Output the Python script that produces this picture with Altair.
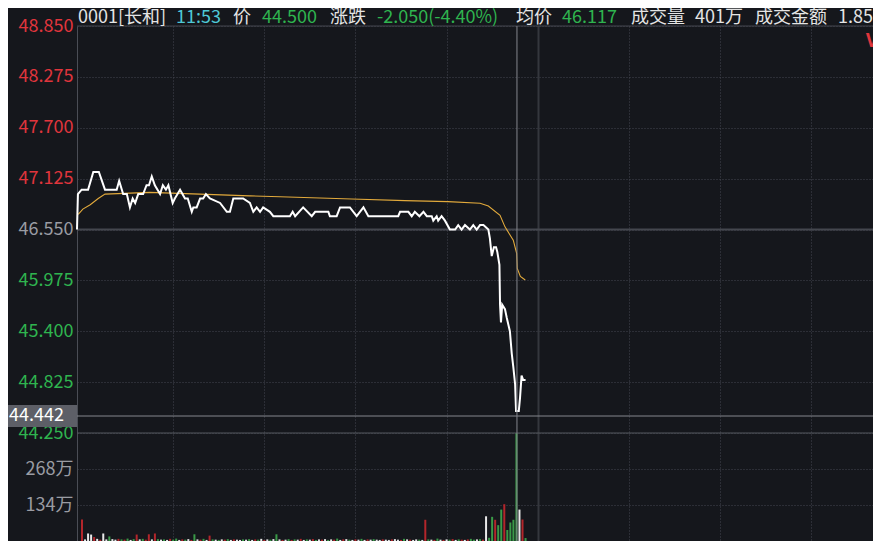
import altair as alt
import pandas as pd

# ---------------- data ----------------
price_minutes = [0, 0.3, 1.5, 3.6, 5.3, 7.1, 9.1, 12.9, 13.7, 15.0, 16.2, 17.2, 18.1, 18.9, 19.9, 21.5,
                 22.6, 23.4, 24.3, 25.3, 27.0, 27.9, 28.9, 29.7, 31.1, 31.8, 33.5, 35.1, 36.0, 37.3, 37.8,
                 38.9, 40.0, 41.0, 41.9, 43.2, 46.5, 48.7, 49.7, 50.8, 54.0, 56.2, 57.3, 58.4, 59.5, 60.5,
                 62.7, 63.8, 69.2, 70.1, 70.9, 73.5, 76.3, 77.4, 81.7, 82.2, 84.4, 85.5, 88.7, 90.9, 93.1,
                 94.7, 104.4, 105.0, 107.7, 108.8, 109.8, 111.3, 112.6, 113.7, 115.3, 115.8, 116.9, 117.4,
                 118.5, 119.6, 121.2, 122.9, 123.9, 125.0, 126.1, 127.7, 128.8, 129.9, 131.0, 132.1, 133.7,
                 134.2, 134.8, 135.5, 136.2, 136.6, 137.3, 137.5, 137.8, 138.2, 139.1, 139.7, 140.7, 141.3,
                 141.8, 142.4, 142.7, 143.6, 144.0, 144.5, 145.0, 145.8]
price_values = [46.55, 46.95, 47.00, 47.00, 47.20, 47.20, 47.00, 47.00, 47.10, 46.95, 46.95, 46.80, 46.90,
                46.85, 46.95, 46.95, 47.05, 47.05, 47.15, 47.05, 46.95, 47.05, 47.00, 47.05, 46.85, 46.90,
                47.00, 46.90, 46.90, 46.75, 46.80, 46.80, 46.90, 46.90, 46.95, 46.90, 46.85, 46.75, 46.75,
                46.90, 46.90, 46.85, 46.75, 46.80, 46.75, 46.80, 46.75, 46.70, 46.70, 46.75, 46.70, 46.80,
                46.70, 46.75, 46.75, 46.70, 46.70, 46.80, 46.80, 46.70, 46.80, 46.70, 46.70, 46.75, 46.75,
                46.70, 46.75, 46.70, 46.75, 46.70, 46.70, 46.65, 46.70, 46.65, 46.70, 46.65, 46.55, 46.55,
                46.60, 46.55, 46.60, 46.55, 46.60, 46.55, 46.60, 46.60, 46.55, 46.45, 46.25, 46.35, 46.35,
                46.30, 46.15, 45.70, 45.50, 45.70, 45.65, 45.55, 45.40, 45.15, 45.00, 44.80, 44.50, 44.50,
                44.65, 44.90, 44.85, 44.85]

avg_minutes = [0.4, 1.9, 4.3, 6.9, 9.1, 23.6, 39.9, 56.2, 66.0, 89.3, 106.6, 120.6, 131.0, 133.7,
               137.5, 139.1, 141.8, 142.9, 143.1, 144.1, 145.7]
avg_values = [46.72, 46.78, 46.83, 46.90, 46.95, 46.97, 46.95, 46.93, 46.92, 46.895, 46.876, 46.865,
              46.847, 46.816, 46.71, 46.58, 46.43, 46.28, 46.11, 46.02, 45.98]

volumes = [80, 6, 28, 24, 15, 8, 5, 28, 6, 17,
           7, 5, 8, 6, 5, 9, 4, 7, 24, 6,
           8, 5, 25, 6, 28, 7, 5, 6, 4, 8,
           5, 9, 4, 6, 5, 7, 4, 25, 6, 5,
           8, 4, 20, 6, 5, 4, 6, 5, 7, 4,
           6, 5, 4, 6, 5, 7, 4, 6, 5, 8,
           4, 6, 5, 7, 25, 6, 4, 5, 7, 4,
           6, 5, 8, 4, 6, 5, 7, 4, 6, 5,
           7, 4, 6, 5, 9, 4, 6, 7, 5, 4,
           6, 5, 8, 4, 6, 5, 7, 5, 4, 6,
           5, 4, 6, 7, 5, 4, 8, 6, 5, 4,
           6, 5, 4, 79, 6, 5, 4, 9, 5, 4,
           6, 5, 7, 4, 6, 5, 4, 6, 8, 5,
           6, 7, 5, 92, 12, 90, 79, 59, 117, 137,
           41, 69, 79, 402, 117, 80, 11]
vol_direction = ["r", "w", "w", "w", "r", "w", "r", "w", "w", "g",
                 "w", "w", "r", "g", "r", "g", "w", "g", "r", "w",
                 "g", "r", "r", "w", "r", "g", "w", "g", "w", "r",
                 "g", "g", "w", "r", "g", "w", "r", "g", "w", "r",
                 "g", "w", "r", "g", "w", "g", "w", "r", "g", "w",
                 "r", "w", "w", "g", "w", "g", "w", "r", "g", "w",
                 "r", "w", "g", "w", "g", "w", "r", "w", "g", "r",
                 "g", "w", "r", "w", "g", "w", "r", "g", "w", "r",
                 "w", "g", "w", "r", "g", "w", "r", "w", "g", "w",
                 "r", "w", "g", "w", "r", "w", "g", "w", "w", "r",
                 "w", "w", "r", "w", "w", "r", "g", "w", "r", "w",
                 "w", "g", "w", "r", "g", "w", "r", "g", "w", "r",
                 "w", "g", "r", "w", "g", "r", "w", "r", "g", "g",
                 "w", "g", "r", "w", "g", "g", "r", "g", "g", "r",
                 "g", "g", "g", "g", "w", "r", "g"]

price_ticks = [44.25, 44.825, 45.4, 45.975, 46.55, 47.125, 47.7, 48.275, 48.85]
vol_ticks = [134, 268]
time_grid = [30, 60, 90, 120, 180, 210, 240]
lunch_break = 150
prev_close = 46.55
cross_minute = 143
cross_price = 44.442

header_texts = ["0001[长和]", "11:53", "价", "44.500", "涨跌", "-2.050(-4.40%)",
                "均价", "46.117", "成交量", "401万", "成交金额", "1.85亿"]
header_roles = ["label", "time", "label", "value", "label", "value",
                "label", "value", "label", "label", "label", "label"]

# ---------------- style / layout ----------------
RED = "#e0353c"
GREEN = "#2fb44f"
GREY_LABEL = "#9a9ca3"
WHITE_TXT = "#e4e4e4"
CYAN = "#4ec8d6"
BG = "#15171c"
GRID = "#444750"
FONT = "Noto Sans CJK SC"
FS = 18
role_color = {"label": WHITE_TXT, "time": CYAN, "value": GREEN}
header_x = [1, 99, 156, 185, 253, 300, 439, 485, 554, 618, 678, 761]

W, H = 796, 515
PX_PER_MIN = 92.3 / 30
PX_PER_PRICE = 407 / (price_ticks[-1] - price_ticks[0])
PX_VOL_MAX = 108                # height of the tallest volume bar in px

x_scale = alt.Scale(domain=[0, W / PX_PER_MIN], nice=False, zero=False)
y_price_scale = alt.Scale(domain=[price_ticks[-1] - H / PX_PER_PRICE, price_ticks[-1]], nice=False, zero=False)
y_vol_scale = alt.Scale(domain=[0, max(volumes) * H / PX_VOL_MAX], nice=False, zero=True)

price_df = pd.DataFrame({"t": price_minutes, "p": price_values})
avg_df = pd.DataFrame({"t": avg_minutes, "p": avg_values})
vol_df = pd.DataFrame({"t": list(range(len(volumes))), "v": volumes, "d": vol_direction})

DASH = [1, 2]
x_axis = alt.Axis(values=time_grid, grid=True, gridColor=GRID, gridDash=DASH, gridWidth=1, orient="bottom",
                  labels=False, ticks=False, domain=False, title=None)
price_axis = alt.Axis(
    values=price_ticks, format=".3f", title=None, orient="left",
    labelColor={"condition": [{"test": f"datum.value > {prev_close + 0.001}", "value": RED},
                              {"test": f"datum.value < {prev_close - 0.001}", "value": GREEN}],
                "value": GREY_LABEL},
    labelFontSize=FS, labelFont=FONT, labelPadding=4, labelOverlap=False,
    ticks=False, domain=True, domainColor="#4a4d55", domainWidth=1,
    grid=True, gridColor=GRID, gridDash=DASH, gridWidth=1,
)
vol_axis = alt.Axis(
    values=vol_ticks, labelExpr="datum.value + '万'", title=None, orient="left",
    labelColor=GREY_LABEL, labelFontSize=FS, labelFont=FONT, labelPadding=4,
    ticks=False, domain=False, grid=True, gridColor=GRID, gridDash=DASH, gridWidth=1,
)


def X(axis=None):
    return alt.X("t:Q", scale=x_scale, axis=axis)


def YP(axis=None):
    return alt.Y("p:Q", scale=y_price_scale, axis=axis)


def hrule(value, color, width):
    return alt.Chart(pd.DataFrame({"p": [value]})).mark_rule(color=color, strokeWidth=width).encode(y=YP())


vol_layer = alt.Chart(vol_df).mark_bar(size=2).encode(
    x=X(x_axis),
    y=alt.Y("v:Q", scale=y_vol_scale, axis=vol_axis),
    color=alt.Color("d:N", scale=alt.Scale(domain=["r", "g", "w"],
                                           range=["#b3262b", "#3a9a48", "#e8e8e8"]), legend=None),
)

lunch = alt.Chart(pd.DataFrame({"t": [lunch_break]})).mark_rule(color="#34373d", strokeWidth=2).encode(x=X())
top_rule = hrule(price_ticks[-1], "#44474e", 1)
prev_rule = hrule(prev_close, "#44474e", 2)
bottom_rule = hrule(price_ticks[0], "#55585f", 1)

price_line = alt.Chart(price_df).mark_line(color="#ffffff", strokeWidth=2).encode(
    x=X(), y=YP(price_axis))
avg_line = alt.Chart(avg_df).mark_line(color="#e2aa3c", strokeWidth=1.1).encode(x=X(), y=YP())

cross_v = alt.Chart(pd.DataFrame({"t": [cross_minute]})).mark_rule(color="#85878d", strokeWidth=1).encode(x=X())
cross_h = hrule(cross_price, "#85878d", 1)
cross_box = alt.Chart(pd.DataFrame({"p": [cross_price]})).mark_rect(
    color="#5d5f67", yOffset=-11, y2Offset=11).encode(
    x=alt.value(-69), x2=alt.value(0), y=YP(), y2=alt.Y2("p"))
cross_txt = alt.Chart(pd.DataFrame({"p": [cross_price]})).mark_text(
    align="left", baseline="middle", color="#ffffff", fontSize=FS, font=FONT,
    text=f"{cross_price:.3f}").encode(x=alt.value(-68), y=YP())

header_layers = []
for txt, role, hx in zip(header_texts, header_roles, header_x):
    header_layers.append(
        alt.Chart(pd.DataFrame({"p": [0]})).mark_text(
            align="left", baseline="middle", fontSize=FS, font=FONT,
            color=role_color[role], text=txt).encode(x=alt.value(hx), y=alt.value(-8.5))
    )
v_mark = alt.Chart(pd.DataFrame({"p": [0]})).mark_text(
    align="left", baseline="middle", fontSize=19, font=FONT, fontWeight="bold",
    color=RED, text="V").encode(x=alt.value(789), y=alt.value(15))

chart = alt.layer(
    vol_layer, lunch, top_rule, prev_rule, bottom_rule, avg_line, price_line,
    cross_v, cross_h, cross_box, cross_txt, v_mark, *header_layers
).resolve_scale(x="independent", y="independent").properties(
    width=W, height=H,
    autosize=alt.AutoSizeParams(type="none"),
    padding={"left": 69, "top": 18, "right": 0, "bottom": 0},
    background=BG,
).configure_view(stroke=None)

chart.save("out.html", embed_options={"renderer": "svg", "actions": False})
